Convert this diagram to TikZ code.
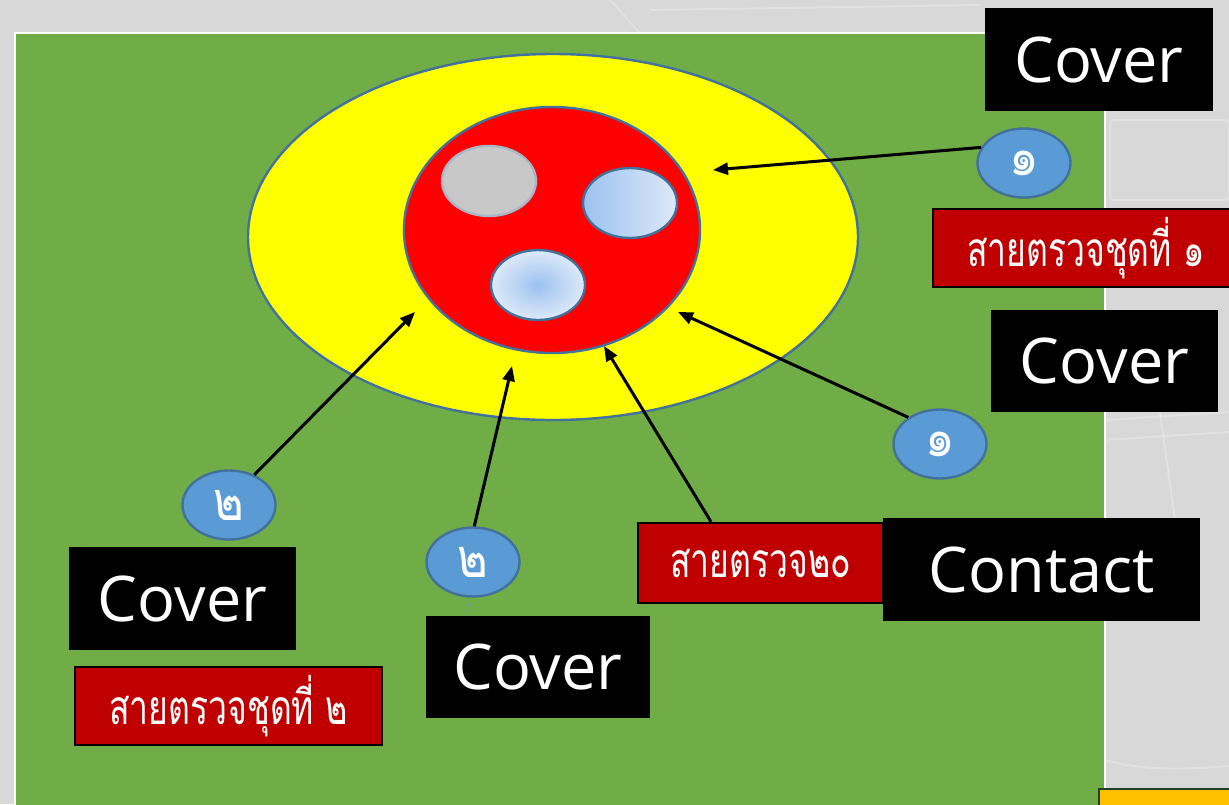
\documentclass[tikz,border=0pt]{standalone}
\usepackage{fontspec}
\setmainfont{Open Sans}
\newfontfamily\thaifont[Script=Thai]{Loma}
\usetikzlibrary{arrows.meta,shapes.geometric,calc}
\definecolor{bggray}{HTML}{D9D8D8}
\definecolor{field}{HTML}{70AD47}
\definecolor{outl}{HTML}{41719C}
\definecolor{bubble}{HTML}{5B9BD5}
\definecolor{darkred}{HTML}{C00000}
\definecolor{lightgr}{HTML}{C8C8C8}
\definecolor{grayout}{HTML}{A9B7C9}
\definecolor{bluedark}{HTML}{9CC2F0}
\definecolor{bluelight}{HTML}{DDE9F8}
\definecolor{amber}{HTML}{FFC000}
\definecolor{boxgreen}{HTML}{1E3F2A}
\definecolor{pureyellow}{HTML}{FFFF00}
\newcommand{\thtxt}[1]{\scalebox{1.02}[1.45]{#1}}
\newcommand{\thnum}[1]{\scalebox{1.5}[1.75]{#1}}
\tikzset{
  blackbox/.style={fill=black, text=white, inner sep=0pt, font=\fontsize{63}{70}\selectfont},
  redbox/.style={fill=darkred, draw=black, line width=2.4pt, text=white, inner sep=0pt, font=\thaifont\fontsize{33}{38}\selectfont},
  numb/.style={ellipse, fill=bubble, draw=outl, line width=2.4pt, minimum width=93pt, minimum height=69pt, inner sep=0pt, text=white, font=\thaifont\fontsize{31}{36}\selectfont},
  hole/.style={ellipse, draw=outl, line width=2.4pt, minimum width=94pt, minimum height=70pt, inner sep=0pt},
  arr/.style={line width=3pt, -{Triangle[length=15pt,width=12pt]}},
  faint/.style={white, opacity=0.25, line width=2pt, rounded corners=4pt}
}
\begin{document}
\begin{tikzpicture}[x=1pt,y=-1pt]
\useasboundingbox (0,0) rectangle (1229,804);
\fill[bggray] (0,0) rectangle (1229,804);
% faint background texture
\draw[faint] (610,0) -- (640,33);
\draw[faint] (650,10) -- (980,5);
\draw[faint] (1110,120) rectangle (1229,200);
\draw[faint] (1105,420) -- (1229,412);
\draw[faint] (1105,440) -- (1229,432);
\draw[faint] (1160,412) -- (1175,520);
\draw[faint] (1105,760) .. controls (1140,770) and (1180,770) .. (1229,766);
% field
\draw[white, line width=2.5pt, fill=field] (15,33) rectangle (1105,810);
% ellipses
\node[ellipse, draw=outl, line width=2.4pt, fill=pureyellow, minimum width=610pt, minimum height=366pt, inner sep=0pt] (outer) at (553,237) {};
\node[ellipse, draw=outl, line width=2.4pt, fill=red, minimum width=296pt, minimum height=246pt, inner sep=0pt] (inner) at (552,230) {};
\node[hole, fill=lightgr, draw=grayout] (h1) at (489,181) {};
\node[hole, left color=bluedark, right color=bluelight] (h2) at (630,203) {};
\node[hole, inner color=bluedark, outer color=bluelight] (h3) at (538,285) {};
% target points
\coordinate (t1) at (713,170);
\coordinate (t2) at (678,312);
\coordinate (t3) at (415,312);
\coordinate (t4) at (512,366);
\coordinate (t5) at (604,346);
% number bubbles
\node[numb] (n1a) at (1024,163) {\thnum{๑}};
\node[numb] (n1b) at (940,444) {\thnum{๑}};
\node[numb] (n2a) at (229,505) {\thnum{๒}};
\node[numb] (n2b) at (473,562) {\thnum{๒}};
% red boxes
\node[redbox, minimum width=306pt, minimum height=78pt] (p1) at (1086,248) {\thtxt{สายตรวจชุดที่ ๑}};
\node[redbox, minimum width=245pt, minimum height=80pt] (p20) at (760.5,563) {\thtxt{สายตรวจ๒๐}};
\node[redbox, minimum width=307pt, minimum height=78pt] (p2) at (228.5,706) {\thtxt{สายตรวจชุดที่ ๒}};
% black boxes
\node[blackbox, minimum width=228pt, minimum height=103pt] (c1) at (1099,59.5) {Cover};
\node[blackbox, minimum width=227pt, minimum height=102pt] (c2) at (1104.5,361) {Cover};
\node[blackbox, minimum width=227pt, minimum height=103pt] (c3) at (182.5,598.5) {Cover};
\node[blackbox, minimum width=224pt, minimum height=102pt] (c4) at (538,667) {Cover};
\node[blackbox, minimum width=317pt, minimum height=103pt] (ct) at (1041.5,569.5) {Contact};
% arrows
\draw[arr] (n1a.160) -- (t1);
\draw[arr] (n1b.140) -- (t2);
\draw[arr] (n2a.50) -- (t3);
\draw[arr] (n2b.88) -- (t4);
\draw[arr] ($(p20.north west)!0.3!(p20.north east)$) -- (t5);
\draw[bubble, dashed, line width=1pt] (n2b.265) -- ($(c4.north west)!0.18!(c4.north east)$);
% corner box
\draw[boxgreen, line width=2pt, fill=amber] (1099,789) rectangle (1240,812);
\end{tikzpicture}
\end{document}
